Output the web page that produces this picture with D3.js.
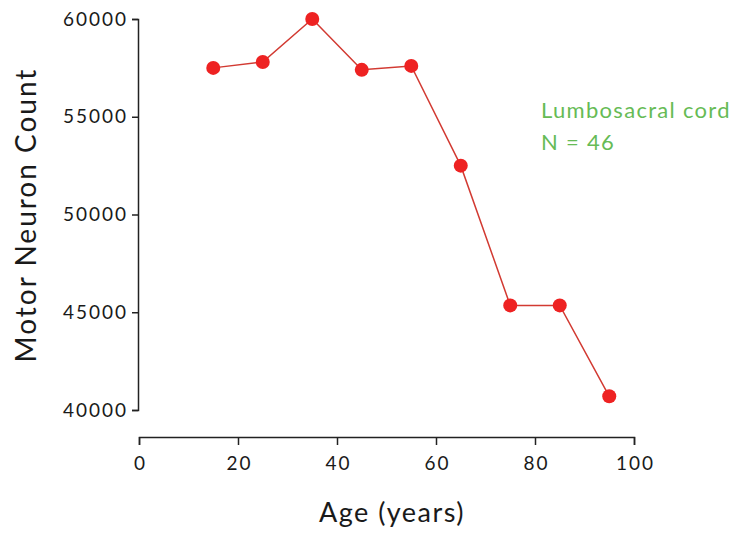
<!DOCTYPE html>
<html><head><meta charset="utf-8">
<script src="https://cdn.jsdelivr.net/npm/d3@7"></script>
<style>body{margin:0;background:#fff}svg{display:block}text{font-family:Lato,"Open Sans",sans-serif}</style>
</head><body>
<svg id="c" width="740" height="535"></svg>
<script>
const ages = [15, 25, 35, 45, 55, 65, 75, 85, 95];
const counts = [57500, 57800, 60000, 57400, 57600, 52500, 45350, 45350, 40700];
const xTicks = [0, 20, 40, 60, 80, 100];
const yTicks = [40000, 45000, 50000, 55000, 60000];
const annotation = ["Lumbosacral cord", "N = 46"];

const svg = d3.select("#c");
const x = d3.scaleLinear().domain([0, 100]).range([139, 634]);
const y = d3.scaleLinear().domain([40000, 60000]).range([410, 19]);

const xa = svg.append("g").attr("transform", "translate(0,437)")
  .call(d3.axisBottom(x).tickValues(xTicks).tickSize(8).tickSizeOuter(8).tickPadding(12));
const ya = svg.append("g").attr("transform", "translate(138,0)")
  .call(d3.axisLeft(y).tickValues(yTicks).tickSize(6).tickSizeOuter(6).tickPadding(4).tickFormat(d3.format("d")));
[xa, ya].forEach(a => {
  a.selectAll("path,line").attr("stroke", "#222").attr("stroke-width", 1.5);
  a.selectAll("text").attr("font-size", 19).attr("fill", "#1a1a1a")
    .attr("font-family", "Lato, sans-serif").attr("letter-spacing", 2);
});
xa.selectAll("text").attr("dx", 1);

svg.append("path").datum(ages.map((a, i) => [a, counts[i]]))
  .attr("d", d3.line().x(d => x(d[0])).y(d => y(d[1])))
  .attr("fill", "none").attr("stroke", "#d23a32").attr("stroke-width", 1.5);
svg.selectAll("circle.p").data(ages).join("circle")
  .attr("cx", d => x(d)).attr("cy", (d, i) => y(counts[i])).attr("r", 7)
  .attr("fill", "#ee2222");

svg.append("text").attr("transform", "translate(36,215) rotate(-90)")
  .attr("text-anchor", "middle").attr("font-size", 28).attr("letter-spacing", 2)
  .attr("fill", "#1a1a1a").text("Motor Neuron Count");
svg.append("text").attr("x", 392).attr("y", 522)
  .attr("text-anchor", "middle").attr("font-size", 27).attr("letter-spacing", 1.5)
  .attr("fill", "#1a1a1a").text("Age (years)");
svg.selectAll("text.ann").data(annotation).join("text")
  .attr("x", 541).attr("y", (d, i) => 118 + i * 32)
  .attr("font-size", 22).attr("letter-spacing", 1.3).attr("fill", "#66bb55").text(d => d);
</script>
</body></html>
